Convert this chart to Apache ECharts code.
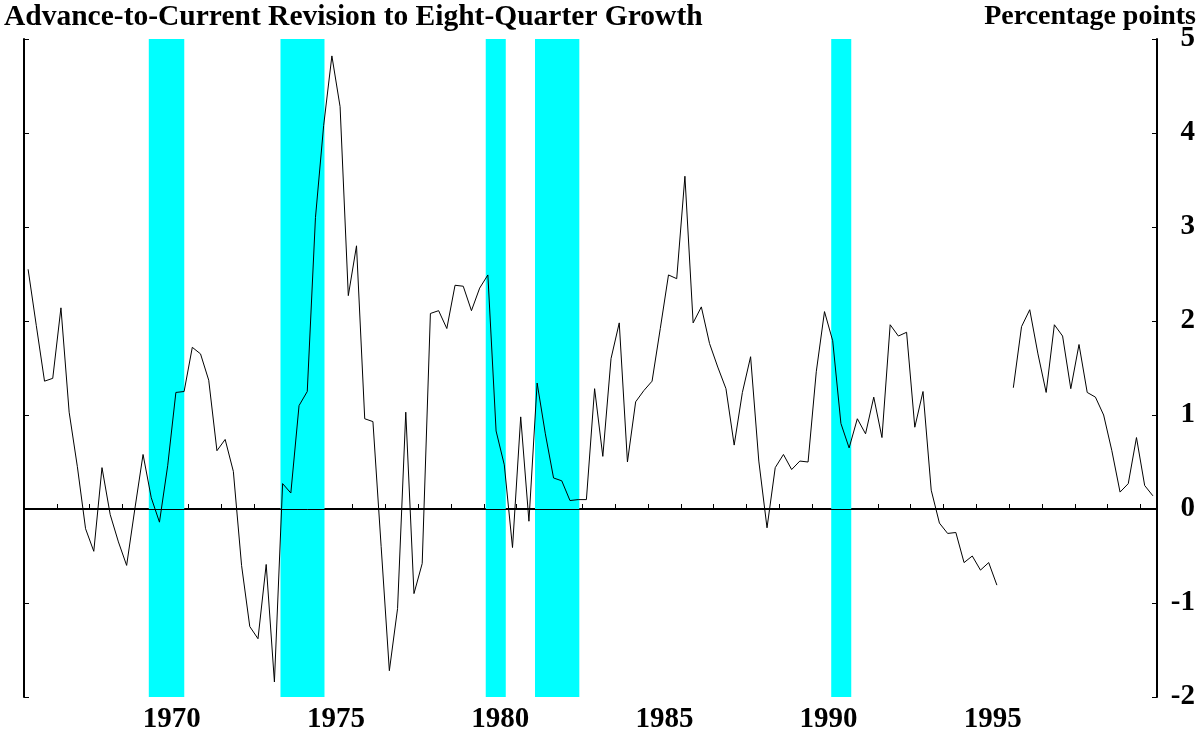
<!DOCTYPE html>
<html>
<head>
<meta charset="utf-8">
<script src="https://cdn.jsdelivr.net/npm/echarts@6/dist/echarts.min.js"></script>
<style>
  html, body { margin: 0; padding: 0; background: #fff; }
  #main { width: 1198px; height: 740px; }
</style>
</head>
<body>
<div id="main"></div>
<script>
// quarterly revisions, 1966Q1 .. 2000Q2 (null = no data)
var startYear = 1966;
var revision = [
  2.55, 1.95, 1.36, 1.39, 2.14, 1.03, 0.45, -0.21, -0.45, 0.44, -0.06, -0.35,
  -0.60, 0.00, 0.58, 0.12, -0.14, 0.46, 1.24, 1.25, 1.72, 1.65, 1.37, 0.62,
  0.74, 0.40, -0.60, -1.25, -1.38, -0.59, -1.84, 0.27, 0.17, 1.10, 1.25, 3.10,
  4.08, 4.82, 4.28, 2.27, 2.80, 0.96, 0.93, -0.40, -1.72, -1.06, 1.03, -0.90,
  -0.58, 2.08, 2.11, 1.92, 2.38, 2.37, 2.11, 2.35, 2.49, 0.83, 0.47, -0.41,
  0.98, -0.13, 1.34, 0.80, 0.33, 0.30, 0.09, 0.10, 0.10, 1.28, 0.56, 1.60,
  1.98, 0.50, 1.14, 1.26, 1.36, 1.92, 2.49, 2.45, 3.54, 1.98, 2.15, 1.76,
  1.51, 1.28, 0.68, 1.24, 1.62, 0.51, -0.20, 0.44, 0.58, 0.42, 0.51, 0.50,
  1.46, 2.10, 1.79, 0.91, 0.65, 0.96, 0.80, 1.19, 0.76, 1.96, 1.84, 1.88,
  0.87, 1.25, 0.20, -0.15, -0.26, -0.25, -0.57, -0.50, -0.65, -0.57, -0.81, null,
  1.29, 1.94, 2.12, 1.65, 1.24, 1.96, 1.84, 1.28, 1.75, 1.24, 1.19, 1.00,
  0.62, 0.18, 0.27, 0.76, 0.25, 0.14
];
// recession bands (start, end), in years
var recessions = [
  [1969.8, 1970.88],
  [1973.81, 1975.15],
  [1980.06, 1980.67],
  [1981.56, 1982.91],
  [1990.58, 1991.19]
];
var yearLabels = [1970, 1975, 1980, 1985, 1990, 1995];
var yearTicks = [];
for (var y = 1967; y <= 2000; y++) yearTicks.push(y);

var serif = '"Liberation Serif", "Times New Roman", serif';

var lineData = revision.map(function (v, i) {
  return [startYear + 0.125 + i / 4, v === null ? '-' : v];
});

var myChart = echarts.init(document.getElementById('main'));
var option = {
  animation: false,
  backgroundColor: '#fff',
  grid: { left: 24, right: 40, top: 39, bottom: 43 },
  graphic: [
    {
      type: 'text', left: 4, top: 2,
      style: { text: 'Advance-to-Current Revision to Eight-Quarter Growth', font: 'bold 29.5px ' + serif, fill: '#000' }
    },
    {
      type: 'text', right: 2, top: 3,
      style: { text: 'Percentage points', font: 'bold 28px ' + serif, fill: '#000' }
    }
  ],
  xAxis: {
    type: 'value',
    min: 1966,
    max: 2000.5,
    interval: 1,
    splitLine: { show: false },
    axisLine: { lineStyle: { color: '#000', width: 2 } },
    axisTick: { inside: true, length: 5, customValues: yearTicks, lineStyle: { color: '#000', width: 1 } },
    axisLabel: {
      customValues: yearLabels.map(function (v) { return v + 0.5; }),
      formatter: function (v) { return String(Math.floor(v)); },
      fontFamily: serif, fontWeight: 'bold', fontSize: 29, color: '#000', margin: 8
    }
  },
  yAxis: [
    {
      type: 'value', position: 'left', min: -2, max: 5, interval: 1,
      splitLine: { show: false },
      axisLine: { show: true, lineStyle: { color: '#000', width: 2 } },
      axisTick: { show: true, inside: true, length: 5, lineStyle: { color: '#000', width: 1 } },
      axisLabel: { show: false }
    },
    {
      type: 'value', position: 'right', min: -2, max: 5, interval: 1,
      splitLine: { show: false },
      axisLine: { show: true, lineStyle: { color: '#000', width: 2 } },
      axisTick: { show: true, inside: true, length: 5, lineStyle: { color: '#000', width: 1 } },
      axisLabel: {
        align: 'right', margin: 38,
        fontFamily: serif, fontWeight: 'bold', fontSize: 29, color: '#000'
      }
    }
  ],
  series: [
    {
      type: 'line',
      data: lineData,
      showSymbol: false,
      connectNulls: false,
      lineStyle: { color: '#000', width: 1 },
      markArea: {
        silent: true,
        itemStyle: { color: '#00ffff', opacity: 1 },
        data: recessions.map(function (r) { return [{ xAxis: r[0] }, { xAxis: r[1] }]; })
      },
      markLine: {
        silent: true,
        symbol: 'none',
        label: { show: false },
        lineStyle: { color: '#000', width: 1, type: 'solid' },
        data: [{ yAxis: 0 }]
      }
    }
  ]
};
myChart.setOption(option);
</script>
</body>
</html>
